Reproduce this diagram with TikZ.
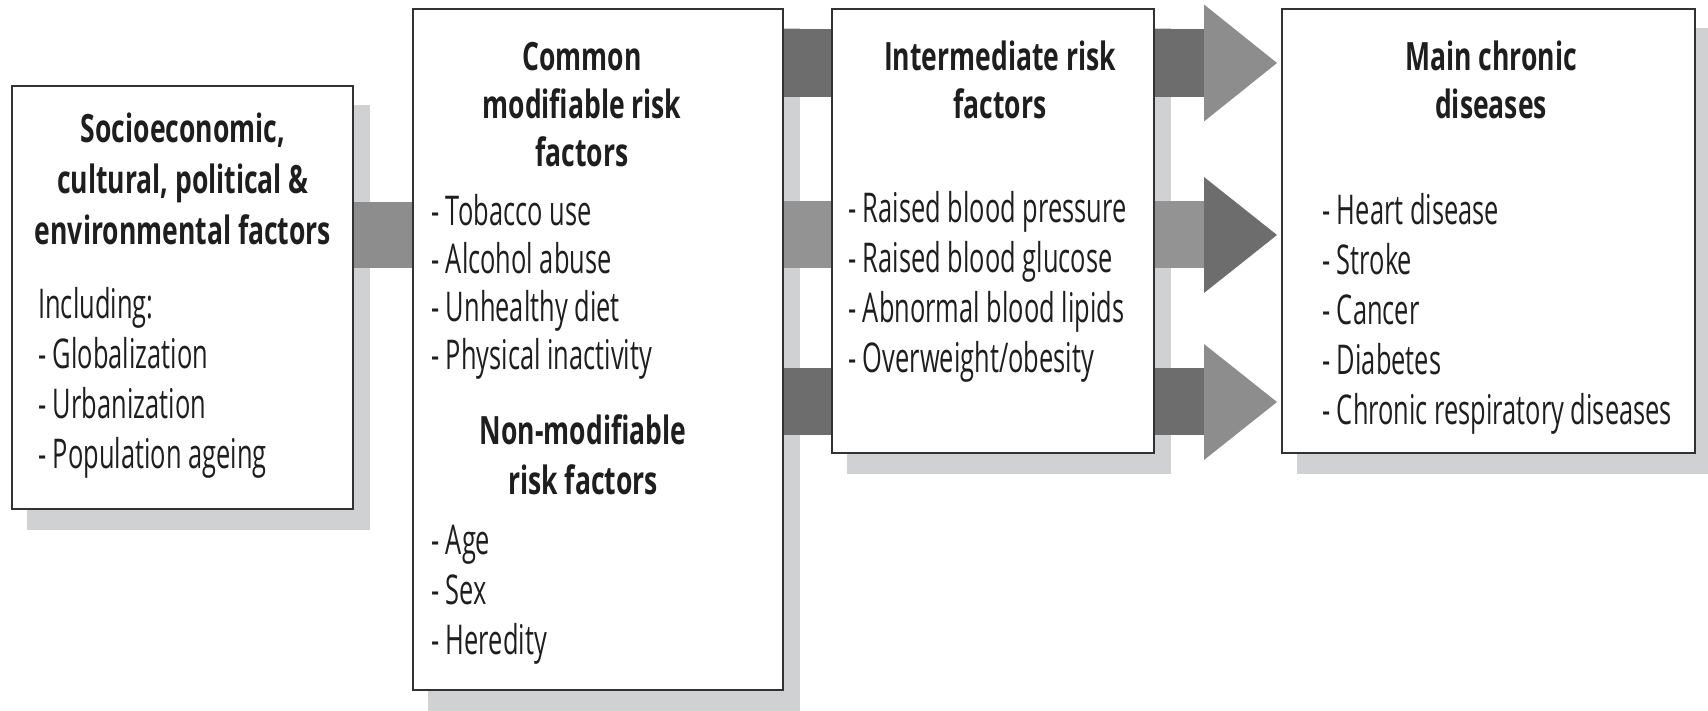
\documentclass[tikz,border=0pt]{standalone}
\usepackage{fontspec}
\setmainfont{Open Sans}[FakeStretch=0.62]
\newfontfamily\headf{Open Sans}[FakeStretch=0.68]
\usetikzlibrary{backgrounds}
\definecolor{shadowc}{RGB}{208,209,211}
\definecolor{darkbar}{RGB}{109,109,109}
\definecolor{midbar}{RGB}{141,141,141}
\definecolor{lightbar}{RGB}{147,147,147}
\definecolor{edgec}{RGB}{50,50,50}
\definecolor{textc}{RGB}{30,30,30}
\newcommand\HL[2]{\vtop{\headf\bfseries\fontsize{39}{#1}\selectfont\halign{\hfil##\hfil\cr#2\crcr}}}
\newcommand\BL[2]{\vtop{\fontsize{41}{#1}\selectfont\halign{##\hfil\cr#2\crcr}}}
\begin{document}
\begin{tikzpicture}[x=1pt,y=-1pt,
  box/.style={draw=edgec, line width=2pt, fill=white, inner sep=0pt, rectangle},
  txt/.style={inner sep=0pt, text=textc},
  shad/.style={fill=shadowc}]
\useasboundingbox (0,0) rectangle (1708,711);
% boxes
\node[box, minimum width=341pt, minimum height=423pt] (b1) at (182.5,297.5) {};
\node[box, minimum width=370pt, minimum height=681pt] (b2) at (598,349.5) {};
\node[box, minimum width=322pt, minimum height=444pt] (b3) at (993,231) {};
\node[box, minimum width=413pt, minimum height=444pt] (b4) at (1488.5,231) {};
% arrow tips
\coordinate (tipA) at ([xshift=-4pt]b4.west |- 0,63);
\coordinate (tipB) at ([xshift=-4pt]b4.west |- 0,235);
\coordinate (tipC) at ([xshift=-4pt]b4.west |- 0,402);
\begin{pgfonlayer}{background}
  \foreach \b in {b1,b2,b3,b4}{
    \fill[shad] ([shift={(16,20)}]\b.north west) rectangle ([shift={(16,20)}]\b.south east);
  }
  % box1 -> box2
  \fill[midbar] (b1.east |- 0,202) rectangle (b2.west |- 0,268);
  % box2 -> box3
  \fill[darkbar] (b2.east |- 0,29) rectangle (b3.west |- 0,97);
  \fill[lightbar] (b2.east |- 0,201) rectangle (b3.west |- 0,268);
  \fill[darkbar] (b2.east |- 0,368) rectangle (b3.west |- 0,435);
  % box3 -> box4
  \fill[darkbar] (b3.east |- 0,29) rectangle (1204,97);
  \fill[midbar] (1204,4.5) -- (tipA) -- (1204,121.5) -- cycle;
  \fill[lightbar] (b3.east |- 0,201) rectangle (1204,268);
  \fill[darkbar] (1204,177) -- (tipB) -- (1204,293) -- cycle;
  \fill[darkbar] (b3.east |- 0,368) rectangle (1204,435);
  \fill[midbar] (1204,344) -- (tipC) -- (1204,460) -- cycle;
\end{pgfonlayer}
% texts
\node[txt,anchor=base] (t1h) at (183,143) {\HL{51}{Socioeconomic,\cr cultural, political \&\cr environmental factors}};
\node[txt,anchor=base west] (t1b) at (38,319) {\BL{50}{Including:\cr - Globalization\cr - Urbanization\cr - Population ageing}};
\node[txt,anchor=base] (t2h) at (582,71) {\HL{48}{Common\cr modifiable risk\cr factors}};
\node[txt,anchor=base west] (t2b) at (431,226) {\BL{47.7}{- Tobacco use\cr - Alcohol abuse\cr - Unhealthy diet\cr - Physical inactivity}};
\node[txt,anchor=base] (t2h2) at (583,444) {\HL{50}{Non-modifiable\cr risk factors}};
\node[txt,anchor=base west] (t2b2) at (431,554) {\BL{50}{- Age\cr - Sex\cr - Heredity}};
\node[txt,anchor=base] (t3h) at (1000,71) {\HL{48}{Intermediate risk\cr factors}};
\node[txt,anchor=base west] (t3b) at (848,223) {\BL{50}{- Raised blood pressure\cr - Raised blood glucose\cr - Abnormal blood lipids\cr - Overweight/obesity}};
\node[txt,anchor=base] (t4h) at (1491,71) {\HL{48}{Main chronic\cr diseases}};
\node[txt,anchor=base west] (t4b) at (1322,225) {\BL{50}{- Heart disease\cr - Stroke\cr - Cancer\cr - Diabetes\cr - Chronic respiratory diseases}};
\end{tikzpicture}
\end{document}
